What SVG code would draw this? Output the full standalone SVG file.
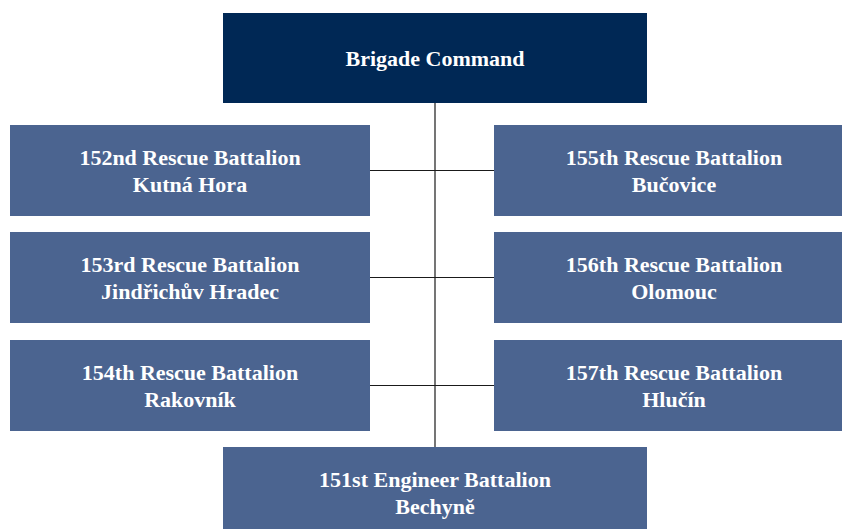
<svg xmlns="http://www.w3.org/2000/svg" width="842" height="529" viewBox="0 0 842 529">
<style>
.top{fill:#002855}
.box{fill:#4b6490}
.t{font-family:"Liberation Serif","DejaVu Serif",serif;font-weight:bold;font-size:22px;fill:#ffffff;text-anchor:middle}
.c{stroke:#1a1a1a;stroke-width:1.2;fill:none}
</style>
<rect width="842" height="529" fill="#ffffff"/>
<g id="connectors">
<line class="c" x1="435" y1="103" x2="435" y2="447"/>
<line class="c" x1="370" y1="170.5" x2="494" y2="170.5"/>
<line class="c" x1="370" y1="277.5" x2="494" y2="277.5"/>
<line class="c" x1="370" y1="385.5" x2="494" y2="385.5"/>
</g>
<g id="brigade-command">
<rect class="top" x="223" y="13" width="424" height="90"/>
<text class="t" x="435" y="66">Brigade Command</text>
</g>
<g id="bn152">
<rect class="box" x="10" y="125" width="360" height="91"/>
<text class="t" x="190" y="165">152nd Rescue Battalion</text>
<text class="t" x="190" y="192">Kutná Hora</text>
</g>
<g id="bn153">
<rect class="box" x="10" y="232" width="360" height="91"/>
<text class="t" x="190" y="272">153rd Rescue Battalion</text>
<text class="t" x="190" y="299">Jindřichův Hradec</text>
</g>
<g id="bn154">
<rect class="box" x="10" y="340" width="360" height="91"/>
<text class="t" x="190" y="380">154th Rescue Battalion</text>
<text class="t" x="190" y="407">Rakovník</text>
</g>
<g id="bn155">
<rect class="box" x="494" y="125" width="360" height="91"/>
<text class="t" x="674" y="165">155th Rescue Battalion</text>
<text class="t" x="674" y="192">Bučovice</text>
</g>
<g id="bn156">
<rect class="box" x="494" y="232" width="360" height="91"/>
<text class="t" x="674" y="272">156th Rescue Battalion</text>
<text class="t" x="674" y="299">Olomouc</text>
</g>
<g id="bn157">
<rect class="box" x="494" y="340" width="360" height="91"/>
<text class="t" x="674" y="380">157th Rescue Battalion</text>
<text class="t" x="674" y="407">Hlučín</text>
</g>
<g id="bn151">
<rect class="box" x="223" y="447" width="424" height="82"/>
<text class="t" x="435" y="487">151st Engineer Battalion</text>
<text class="t" x="435" y="514">Bechyně</text>
</g>
</svg>
